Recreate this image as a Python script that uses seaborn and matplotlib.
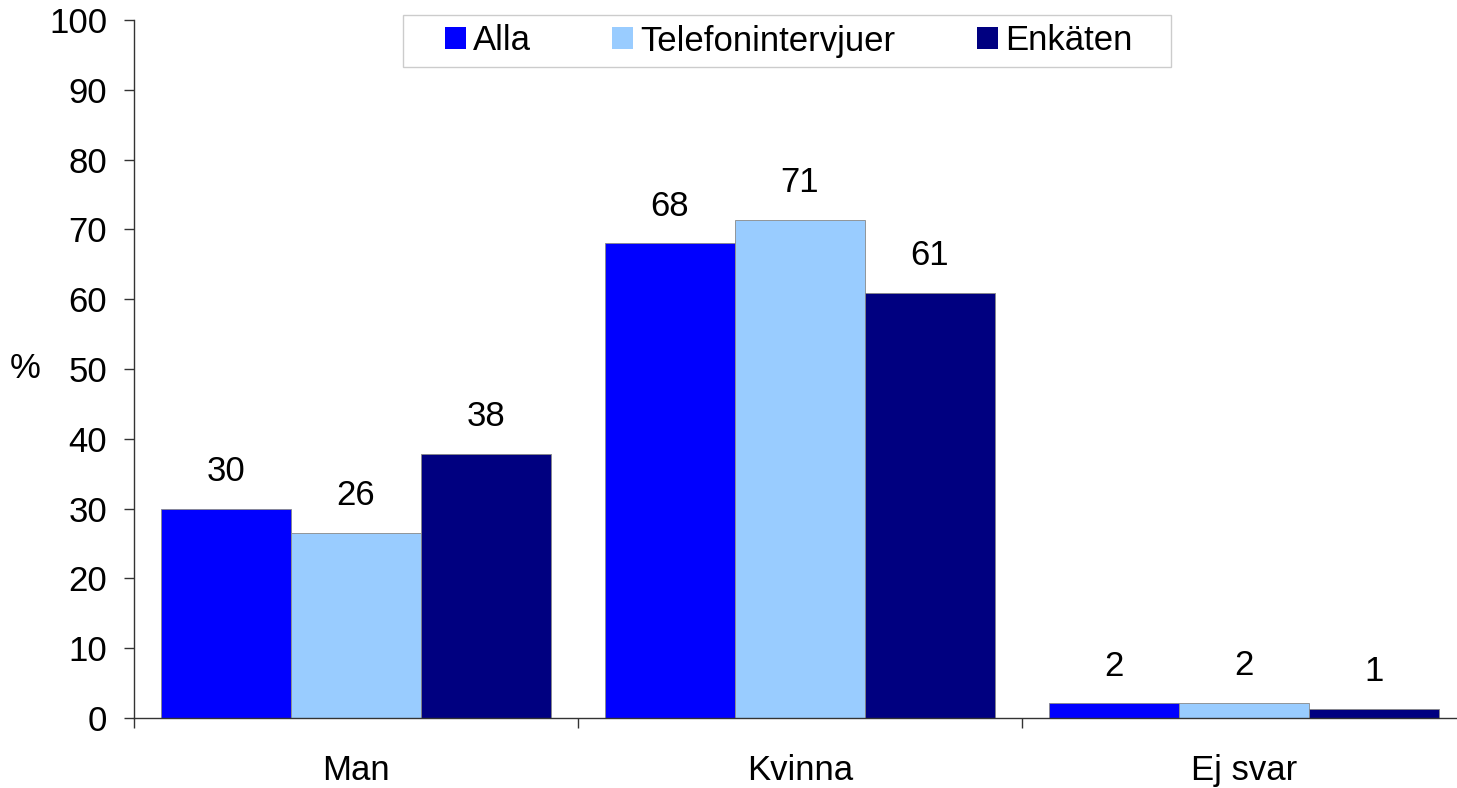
import pandas as pd
import numpy as np
import matplotlib
matplotlib.use("Agg")
import matplotlib.pyplot as plt
from matplotlib.ticker import FixedLocator
from matplotlib.patches import Rectangle
import seaborn as sns

# data
kategorier = ["Man", "Kvinna", "Ej svar"]
grupper = ["Alla", "Telefonintervjuer", "Enkäten"]
alla = [30.0, 68.0, 2.1]
telefon = [26.5, 71.3, 2.2]
enkaten = [37.8, 60.9, 1.3]
etiketter = [["30", "68", "2"], ["26", "71", "2"], ["38", "61", "1"]]
farger = ["#0000FF", "#99CCFF", "#000080"]

df = pd.DataFrame({
    "kategori": kategorier * 3,
    "grupp": np.repeat(grupper, 3),
    "varde": alla + telefon + enkaten,
})

sns.set_style("white")
plt.rcParams["font.family"] = ["Liberation Sans", "DejaVu Sans"]
plt.rcParams["font.size"] = 25
plt.rcParams["text.color"] = "black"
plt.rcParams["xtick.color"] = "black"
plt.rcParams["ytick.color"] = "black"
plt.rcParams["axes.labelcolor"] = "black"

W, H = 1457, 788
fig = plt.figure(figsize=(W / 100, H / 100), dpi=100)
ax = fig.add_axes([134 / W, 1 - 718 / H, 1332 / W, 698 / H])

sns.barplot(data=df, x="kategori", y="varde", hue="grupp", order=kategorier,
            hue_order=grupper, palette=farger, width=0.878, saturation=1,
            linewidth=0.6, edgecolor="#888888", ax=ax, legend=True)

for cont, labs in zip(ax.containers, etiketter):
    ax.bar_label(cont, labels=labs, padding=15, fontsize=25, color="black")

ax.set_xlim(-0.5, 2.5)
ax.set_ylim(0, 100)
ax.set_yticks(range(0, 101, 10))
ax.tick_params(axis="y", direction="out", length=7.2, width=1, pad=12,
               labelsize=25, left=True, color="#333333")
ax.tick_params(axis="x", which="major", length=0, pad=26, labelsize=25)
ax.xaxis.set_minor_locator(FixedLocator([-0.5, 0.5, 1.5, 2.5]))
ax.tick_params(axis="x", which="minor", direction="out", length=7.2, width=1,
               bottom=True, color="#333333")
ax.set_xlabel("")
ax.set_ylabel("%", rotation=0, fontsize=25, va="center", ha="center")
ax.yaxis.set_label_coords(-109 / 1332, 0.5)

for s in ["top", "right"]:
    ax.spines[s].set_visible(False)
for s in ["left", "bottom"]:
    ax.spines[s].set_color("#333333")
    ax.spines[s].set_linewidth(1)

h, l = ax.get_legend_handles_labels()
ax.get_legend().remove()
for hd in h:
    hd.set_linewidth(0)
fig.legend(h, l, loc="center left", bbox_to_anchor=(445 / W, 1 - 41 / H),
           ncol=3, fontsize=25, frameon=False, handlelength=0.6,
           handleheight=0.6, handletextpad=0.2, columnspacing=2.35,
           borderpad=0, borderaxespad=0)
fig.patches.append(Rectangle((403 / W, 1 - 67 / H), (1171 - 403) / W, 52 / H,
                             transform=fig.transFigure, fill=False,
                             edgecolor="#cccccc", linewidth=1))

fig.savefig("out.png", dpi=100)
